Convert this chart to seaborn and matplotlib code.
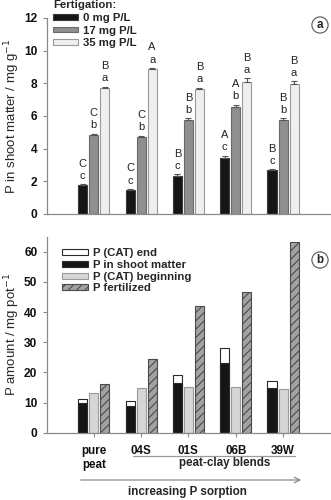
import matplotlib
matplotlib.use("Agg")
import matplotlib.pyplot as plt
from matplotlib.patches import Patch
import seaborn as sns
import pandas as pd
import numpy as np

# ---- data -------------------------------------------------------------
substrates = ["pure\npeat", "04S", "01S", "06B", "39W"]
fert_levels = ["0 mg P/L", "17 mg P/L", "35 mg P/L"]

p_0mg = [1.75, 1.50, 2.32, 3.45, 2.67]
p_17mg = [4.85, 4.70, 5.75, 6.55, 5.75]
p_35mg = [7.70, 8.90, 7.68, 8.10, 7.95]
err_0mg = [0.08, 0.04, 0.12, 0.12, 0.07]
err_17mg = [0.07, 0.10, 0.12, 0.15, 0.12]
err_35mg = [0.10, 0.05, 0.05, 0.20, 0.17]

upper_0mg = ["C", "C", "B", "A", "B"]
upper_17mg = ["C", "C", "B", "A", "B"]
upper_35mg = ["B", "A", "B", "B", "B"]
lower_0mg = ["c", "c", "c", "c", "c"]
lower_17mg = ["b", "b", "b", "b", "b"]
lower_35mg = ["a", "a", "a", "a", "a"]

p_shoot = [9.8, 8.9, 16.4, 23.0, 14.8]
p_cat_end = [1.3, 1.7, 2.6, 5.2, 2.4]
p_cat_begin = [13.2, 14.8, 15.1, 15.1, 14.6]
p_fertilized = [16.2, 24.6, 42.0, 46.6, 63.2]

# ---- style ------------------------------------------------------------
sns.set_theme(style="ticks")
plt.rcParams["font.family"] = ["Liberation Sans", "DejaVu Sans"]
plt.rcParams["hatch.linewidth"] = 0.8
spine_col = "#8a8a8a"

fig = plt.figure(figsize=(3.31, 5.0), dpi=100)
ax_a = fig.add_axes([0.1405, 0.572, 0.8575, 0.392])
ax_b = fig.add_axes([0.1405, 0.1346, 0.8575, 0.392])

col_0 = "#151515"
col_17 = "#8f8f8f"
col_35 = "#efefef"
edge_0 = "#3a3a3a"
edge_17 = "#6a6a6a"
edge_35 = "#9a9a9a"

# ---- panel a: P concentration in shoots --------------------------------
df_a = pd.DataFrame({
    "substrate": substrates * 3,
    "fert": [f for f in fert_levels for _ in substrates],
    "P": p_0mg + p_17mg + p_35mg,
})
sns.barplot(data=df_a, x="substrate", y="P", hue="fert", order=substrates,
            hue_order=fert_levels, palette=[col_0, col_17, col_35],
            width=0.7, gap=0.18, errorbar=None, legend=False,
            linewidth=0.8, ax=ax_a)

vals = [p_0mg, p_17mg, p_35mg]
errs = [err_0mg, err_17mg, err_35mg]
uppers = [upper_0mg, upper_17mg, upper_35mg]
lowers = [lower_0mg, lower_17mg, lower_35mg]
edges = [edge_0, edge_17, edge_35]
patches = ax_a.patches
for h in range(3):
    for i in range(len(substrates)):
        bar = patches[h * len(substrates) + i]
        bar.set_edgecolor(edges[h])
        xc = bar.get_x() + bar.get_width() / 2
        top = vals[h][i] + errs[h][i]
        ax_a.errorbar(xc, vals[h][i], yerr=[[0], [errs[h][i]]], fmt="none",
                      ecolor="#555555", elinewidth=0.8, capsize=2.2,
                      capthick=0.8, zorder=3)
        ax_a.annotate(lowers[h][i], (xc, top), xytext=(0, 3.8),
                      textcoords="offset points", ha="center", va="baseline",
                      fontsize=8, color="#222222")
        ax_a.annotate(uppers[h][i], (xc, top), xytext=(0, 12.6),
                      textcoords="offset points", ha="center", va="baseline",
                      fontsize=8, color="#222222")

ax_a.set_xlim(-1, 5)
ax_a.set_ylim(0, 12)
ax_a.set_yticks(np.arange(0, 13, 2))
ax_a.set_xticks([])
ax_a.set_xlabel("")
ax_a.set_ylabel("P in shoot matter / mg g$^{-1}$", fontsize=9.5)

leg_a = ax_a.legend(
    handles=[Patch(facecolor=c, edgecolor=e, linewidth=0.8, label=l)
             for c, e, l in zip([col_0, col_17, col_35], edges, fert_levels)],
    title="Fertigation:", loc="upper left",
    bbox_to_anchor=(53 / 331, 1 - 0.5 / 500), bbox_transform=fig.transFigure,
    frameon=False, borderpad=0, borderaxespad=0, handlelength=2.2,
    handleheight=0.38, handletextpad=0.45, labelspacing=0.22,
    prop={"weight": "bold", "size": 8.2},
    title_fontproperties={"weight": "bold", "size": 8.2}, alignment="left")

# ---- panel b: P balance ------------------------------------------------
cat_total = [s + e for s, e in zip(p_shoot, p_cat_end)]
slots = ["P (CAT) end", "P (CAT) beginning", "P fertilized"]
df_b = pd.DataFrame({
    "substrate": substrates * 3,
    "slot": [s for s in slots for _ in substrates],
    "P": cat_total + p_cat_begin + p_fertilized,
})
sns.barplot(data=df_b, x="substrate", y="P", hue="slot", order=substrates,
            hue_order=slots, palette=["white", "#d6d6d6", "#a2a2a2"],
            width=0.7, gap=0.18, errorbar=None, legend=False,
            linewidth=0.8, ax=ax_b)
n = len(substrates)
bars_b = list(ax_b.patches)
for i in range(n):
    bars_b[i].set_edgecolor("#2a2a2a")
    bars_b[n + i].set_edgecolor("#9a9a9a")
    bars_b[2 * n + i].set_edgecolor("#4a4a4a")
    bars_b[2 * n + i].set_hatch("////")
# shoot part of the stacked column
for i in range(n):
    b = bars_b[i]
    ax_b.bar(b.get_x(), p_shoot[i], width=b.get_width(), align="edge",
             color=col_0, edgecolor="#2a2a2a", linewidth=0.8, zorder=2)

ax_b.set_xlim(-1, 5)
ax_b.set_ylim(0, 65)
ax_b.set_yticks(np.arange(0, 61, 10))
ax_b.set_xlabel("")
ax_b.set_ylabel("P amount / mg pot$^{-1}$", fontsize=9.5)

leg_b = ax_b.legend(
    handles=[Patch(facecolor="white", edgecolor="#2a2a2a", linewidth=0.8,
                   label="P (CAT) end"),
             Patch(facecolor=col_0, edgecolor="#2a2a2a", linewidth=0.8,
                   label="P in shoot matter"),
             Patch(facecolor="#d6d6d6", edgecolor="#9a9a9a", linewidth=0.8,
                   label="P (CAT) beginning"),
             Patch(facecolor="#a2a2a2", edgecolor="#4a4a4a", linewidth=0.8,
                   hatch="////", label="P fertilized")],
    loc="upper left", bbox_to_anchor=(62 / 331, 1 - 248 / 500),
    bbox_transform=fig.transFigure, frameon=False, borderpad=0,
    borderaxespad=0, handlelength=2.3, handleheight=0.42,
    handletextpad=0.45, labelspacing=0.16,
    prop={"weight": "bold", "size": 8.2})

# ---- shared axis styling ----------------------------------------------
for ax in (ax_a, ax_b):
    sns.despine(ax=ax)
    for s in ("left", "bottom"):
        ax.spines[s].set_color(spine_col)
        ax.spines[s].set_linewidth(0.9)
    ax.tick_params(axis="both", colors=spine_col, length=3, width=0.8,
                   labelcolor="#111111", labelsize=8.6)
    for lab in ax.get_yticklabels():
        lab.set_fontweight("bold")
    ax.yaxis.set_label_coords(-0.086, 0.5)
ax_b.tick_params(axis="x", pad=6)
for lab in ax_b.get_xticklabels():
    lab.set_fontweight("bold")
    lab.set_fontsize(8.4)

# panel tags
for ax, tag, y in ((ax_a, "a", 1 - 25 / 500), (ax_b, "b", 1 - 260 / 500)):
    fig.text(320 / 331, y, tag, ha="center", va="center", fontsize=8.4,
             fontweight="bold",
             bbox=dict(boxstyle="circle,pad=0.18", facecolor="white",
                       edgecolor="#555555", linewidth=0.8))

# blend grouping line, sorption arrow and captions
fig.text(225 / 331, 1 - 463 / 500, "peat-clay blends", ha="center",
         va="center", fontsize=8.4, fontweight="bold")
fig.add_artist(plt.Line2D([133 / 331, 295 / 331], [1 - 456 / 500] * 2,
                          color="#9a9a9a", linewidth=0.9))
ax_b.annotate("", xy=(304 / 331, 1 - 480 / 500), xytext=(78 / 331, 1 - 480 / 500),
              xycoords="figure fraction", textcoords="figure fraction",
              arrowprops=dict(arrowstyle="->", color="#8a8a8a", lw=0.9,
                              mutation_scale=10))
fig.text(187 / 331, 1 - 492 / 500, "increasing P sorption", ha="center",
         va="center", fontsize=8.4, fontweight="bold")

fig.savefig("out.png", dpi=100)
